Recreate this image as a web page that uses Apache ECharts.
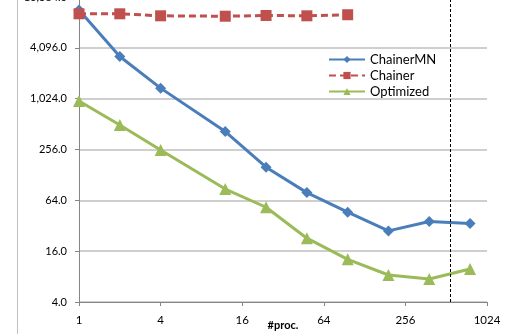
<!DOCTYPE html>
<html>
<head>
<meta charset="utf-8">
<script src="https://cdn.jsdelivr.net/npm/echarts@6/dist/echarts.min.js"></script>
<style>html,body{margin:0;padding:0;background:#fff;}#c{width:505px;height:334px;}</style>
</head>
<body>
<div id="c"></div>
<script>
var procs = [1, 2, 4, 12, 24, 48, 96, 192, 384, 768];
var chainerMN = [11500, 3230, 1365, 417, 158, 79, 46.3, 27.8, 36, 34];
var chainer = [10360, 10360, 9810, 9700, 9900, 9810, 10100];
var optimized = [960, 500, 253, 87, 53, 22.8, 12.8, 8.35, 7.5, 9.85];
var markerProc = 550;

function pairs(xs, ys) { return ys.map(function (v, i) { return [xs[i], v]; }); }

var font = 'Lato, "Open Sans", sans-serif';
var chart = echarts.init(document.getElementById('c'), null, {renderer: 'canvas'});
chart.setOption({
  animation: false,
  backgroundColor: '#fff',
  textStyle: {fontFamily: font},
  grid: {left: 79, right: 18, top: -3, bottom: 32, containLabel: false, outerBoundsMode: 'none'},
  graphic: [{type: 'line', shape: {x1: 17.5, y1: 0, x2: 17.5, y2: 334}, style: {stroke: '#bfbfbf', lineWidth: 1}}],
  legend: {
    orient: 'vertical', left: 326, top: 53, itemWidth: 36, itemHeight: 9, itemGap: 3,
    backgroundColor: '#fff', padding: [0, 6, 0, 2],
    textStyle: {fontFamily: font, fontSize: 13, color: '#000'},
    data: ['ChainerMN', 'Chainer', 'Optimized']
  },
  xAxis: {
    type: 'log', logBase: 4, min: 1, max: 1024,
    name: '#proc.', nameLocation: 'middle', nameGap: 18, nameMoveOverlap: false,
    nameTextStyle: {fontFamily: font, fontSize: 11, fontWeight: 'bold', color: '#000'},
    axisLine: {lineStyle: {color: '#868686', width: 1}},
    axisTick: {show: true, length: 4, lineStyle: {color: '#868686'}},
    axisLabel: {fontFamily: font, fontSize: 11.5, color: '#000', margin: 12,
      formatter: function (v) { return String(Math.round(v)); }},
    splitLine: {show: false}
  },
  yAxis: {
    type: 'log', logBase: 4, min: 4, max: 16384,
    axisLine: {show: true, lineStyle: {color: '#868686', width: 1}},
    axisTick: {show: true, length: 4, lineStyle: {color: '#868686'}},
    axisLabel: {fontFamily: font, fontSize: 11, color: '#000', margin: 12,
      formatter: function (v) { return Math.round(v).toLocaleString('en-US', {minimumFractionDigits: 1, maximumFractionDigits: 1}); }},
    splitLine: {show: true, lineStyle: {color: '#bfbfbf', width: 1.5}}
  },
  series: [
    {name: 'ChainerMN', type: 'line', data: pairs(procs, chainerMN), symbol: 'diamond', symbolSize: 11,
      itemStyle: {color: '#4a7ebb'}, lineStyle: {color: '#4a7ebb', width: 3},
      markLine: {silent: true, symbol: 'none', label: {show: false},
        lineStyle: {color: '#000', type: [3, 2], width: 1},
        data: [{xAxis: markerProc}]}},
    {name: 'Chainer', type: 'line', data: pairs(procs, chainer), symbol: 'rect', symbolSize: 11,
      itemStyle: {color: '#c0504d'}, lineStyle: {color: '#c0504d', width: 3, type: [7, 4]}},
    {name: 'Optimized', type: 'line', data: pairs(procs, optimized), symbol: 'triangle', symbolSize: 12,
      itemStyle: {color: '#9bbb59'}, lineStyle: {color: '#9bbb59', width: 3}}
  ]
});
</script>
</body>
</html>
